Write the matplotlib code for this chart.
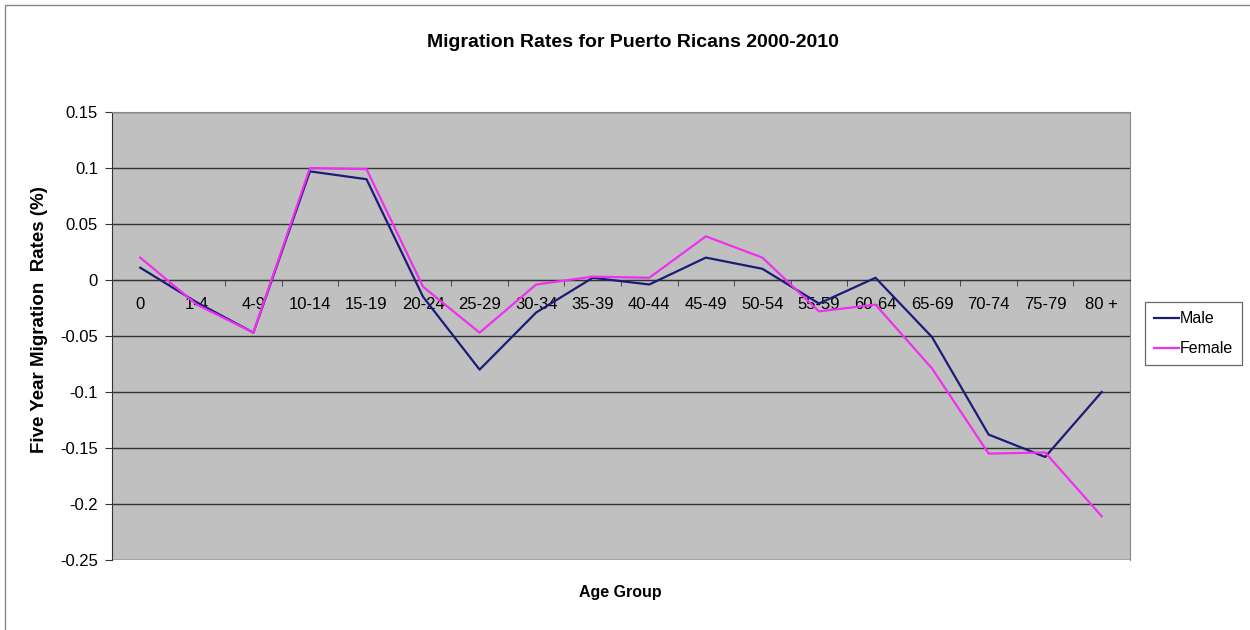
import numpy as np
import matplotlib
matplotlib.use("Agg")
import matplotlib.pyplot as plt
from matplotlib.patches import Rectangle
from matplotlib.ticker import FixedLocator, FuncFormatter

plt.rcParams['font.family'] = ['Liberation Sans', 'DejaVu Sans']

# Age groups and five-year migration rates
age_groups = ["0", "1-4", "4-9", "10-14", "15-19", "20-24", "25-29", "30-34", "35-39",
              "40-44", "45-49", "50-54", "55-59", "60-64", "65-69", "70-74", "75-79", "80 +"]
male = [0.011, -0.02, -0.047, 0.097, 0.09, -0.015, -0.08, -0.029, 0.002,
        -0.004, 0.02, 0.01, -0.021, 0.002, -0.051, -0.138, -0.158, -0.1]
female = [0.02, -0.022, -0.047, 0.1, 0.099, -0.006, -0.047, -0.004, 0.003,
          0.002, 0.039, 0.02, -0.028, -0.022, -0.079, -0.155, -0.154, -0.211]
y_ticks = [0.15, 0.1, 0.05, 0, -0.05, -0.1, -0.15, -0.2, -0.25]

fig = plt.figure(figsize=(12.5, 6.3), dpi=100)
ax = fig.add_axes([0.0896, 0.1111, 0.8144, 0.7111])
ax.set_facecolor("#C0C0C0")

x = np.arange(len(age_groups))
ax.plot(x, male, color="#1C1C78", lw=1.6, label="Male", zorder=3)
ax.plot(x, female, color="#F030F0", lw=1.6, label="Female", zorder=3)

ax.set_xlim(-0.5, len(age_groups) - 0.5)
ax.set_ylim(-0.25, 0.15)

# gridlines
for v in y_ticks:
    ax.axhline(v, color="#333333", lw=1.0, zorder=1)

ax.yaxis.set_major_locator(FixedLocator(y_ticks))
ax.yaxis.set_major_formatter(FuncFormatter(lambda v, p: "0" if abs(v) < 1e-9 else f"{v:g}"))
ax.tick_params(axis="y", direction="out", length=5, labelsize=12, color="#333333", pad=5)

# category axis crossing at zero
ax.spines["bottom"].set_position(("data", 0))
ax.spines["bottom"].set_color("#333333")
ax.spines["top"].set_color("#888888")
ax.spines["right"].set_color("#888888")
ax.spines["left"].set_color("#333333")
ax.set_xticks(x)
ax.set_xticklabels(age_groups)
ax.set_xticks(np.arange(len(age_groups) + 1) - 0.5, minor=True)
ax.tick_params(axis="x", which="major", length=0, labelsize=12, pad=12)
ax.tick_params(axis="x", which="minor", direction="out", length=4, color="#333333")

fig.text(0.506, 0.933, "Migration Rates for Puerto Ricans 2000-2010", ha="center", va="center",
         fontsize=14, fontweight="bold")
fig.text(0.032, 0.492, "Five Year Migration  Rates (%)", ha="center", va="center", rotation=90,
         fontsize=13.5, fontweight="bold")
fig.text(0.496, 0.06, "Age Group", ha="center", va="center", fontsize=11.5, fontweight="bold")

leg = fig.legend(loc="upper left", bbox_to_anchor=(0.916, 0.52), fontsize=11.5,
                 frameon=True, fancybox=False, edgecolor="#444444", handlelength=1.6,
                 handletextpad=0.05, borderpad=0.55, labelspacing=0.95, borderaxespad=0)
leg.get_frame().set_linewidth(0.9)

# outer chart border
fig.patches.append(Rectangle((0.004, -0.01), 1.1, 1.002, transform=fig.transFigure,
                             fill=False, edgecolor="#888888", lw=1.0))

fig.savefig("out.png", dpi=100)
